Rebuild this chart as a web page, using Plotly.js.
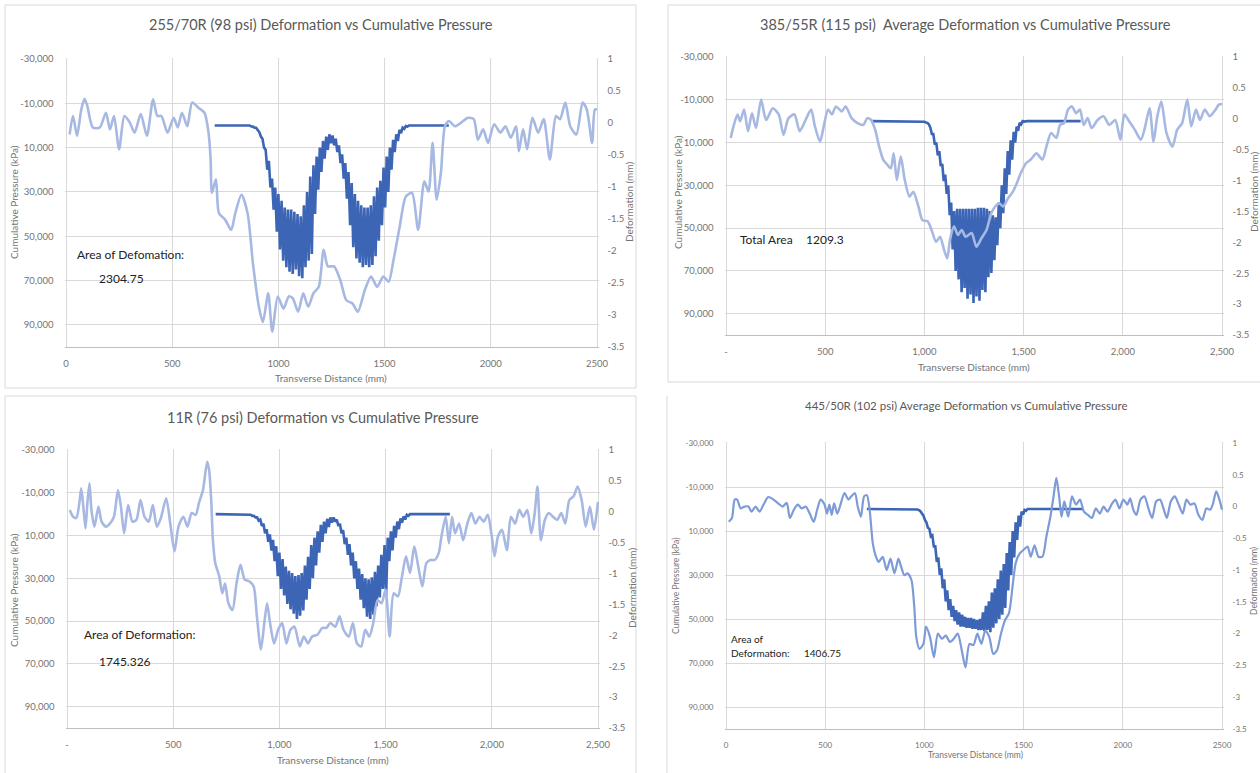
<!DOCTYPE html>
<html><head><meta charset="utf-8">
<script src="https://cdn.plot.ly/plotly-3.0.1.min.js"></script>
<style>html,body{margin:0;padding:0;background:#fff}#chart{width:1260px;height:773px}</style>
</head><body><div id="chart"></div>
<script>
// ---------- tick labels ----------
const pressureTicks = [-30000,-10000,10000,30000,50000,70000,90000];
const pressureTickText = ['-30,000','-10,000','10,000','30,000','50,000','70,000','90,000'];
const deformTicks = [1,0.5,0,-0.5,-1,-1.5,-2,-2.5,-3,-3.5];
const deformTickText = ['1','0.5','0','-0.5','-1','-1.5','-2','-2.5','-3','-3.5'];
const distTicks = [0,500,1000,1500,2000,2500];
const distTickTextPlain = ['0','500','1000','1500','2000','2500'];
const distTickTextComma = ['-','500','1,000','1,500','2,000','2,500'];

// ---------- chart texts ----------
const titles = [
  '255/70R (98 psi) Deformation vs Cumulative Pressure',
  '385/55R (115 psi)\u00a0 Average Deformation vs Cumulative Pressure',
  '11R (76 psi) Deformation vs Cumulative Pressure',
  '445/50R (102 psi) Average Deformation vs Cumulative Pressure'
];
const xTitle = 'Transverse Distance (mm)';
const yLeftTitle = 'Cumulative Pressure (kPa)';
const yRightTitle = 'Deformation (mm)';

// ---------- panel 1: 255/70R ----------
const p1DefX = [17,33,52,72,87,100,126,159,188,207,226,250,275,300,323,352,381,410,430,449,478,507,526,546,571,594,623,652,671,681,687,706,720,749,778,797,826,855,880,908,927,952,971,997,1024,1049,1068,1093,1117,1140,1165,1190,1213,1233,1262,1291,1320,1349,1374,1407,1436,1465,1494,1519,1542,1571,1600,1629,1658,1687,1707,1726,1745,1765,1784,1803,1832,1862,1891,1920,1939,1964,1987,2016,2045,2069,2094,2119,2132,2152,2171,2196,2223,2249,2278,2307,2326,2351,2374,2403,2432,2452,2477,2490,2500];
const p1Def = [-0.18,0.11,-0.20,0.21,0.38,0.27,-0.07,-0.07,0.16,-0.10,0.11,-0.41,0.11,0.01,-0.15,0.14,-0.20,0.37,0.11,0.11,-0.15,0.08,-0.07,0.16,-0.05,0.32,0.24,0.16,-0.15,-0.57,-1.09,-0.88,-1.41,-1.51,-1.67,-1.41,-1.12,-1.41,-2.19,-2.87,-3.11,-2.66,-3.26,-2.71,-2.90,-2.71,-2.74,-2.95,-2.66,-2.87,-2.66,-2.56,-1.98,-2.24,-2.24,-2.45,-2.77,-2.82,-2.95,-2.61,-2.40,-2.56,-2.40,-2.48,-2.14,-1.62,-1.15,-1.09,-1.67,-0.91,-1.07,-0.31,-1.20,-0.78,-0.05,0.03,-0.05,0.01,0.08,0.06,-0.26,-0.10,-0.31,-0.02,-0.15,-0.05,-0.23,-0.05,-0.44,-0.10,-0.41,0.08,-0.15,0.06,-0.57,0.11,0.06,0.32,-0.05,-0.18,0.32,0.21,-0.31,0.21,0.21];
const p1PressStart = 700;
const p1Press = [0,0,0,0,0,0,0,0,0,0,0,0,0,0,0,0,0,0,0,0,0,0,
  0,500,500,1000,1000,2000,3000,5000,6000,10000,11000,20000,16000,28000,24000,38000,28000,48000,31000,56000,34000,61000,37000,64000,38000,66000,38000,67000,39000,65000,40000,68000,41000,69000,36000,64000,30000,61000,23000,58000,18000,40000,14000,29000,10000,21000,7000,15000,5000,11000,4000,8000,4500,9000,6000,12000,9000,17000,13000,24000,17000,33000,21000,45000,26000,55000,31000,60000,34000,62000,36000,64000,37000,63000,37000,64000,36000,63000,32000,59000,28000,52000,25000,45000,19000,37000,14000,30000,10000,20000,6500,12000,4000,7000,2000,3500,1000,1500,300,500,
  0,0,0,0,0,0,0,0,0,0,0,0,0,0,0,0,0,0,0,0,0,0,0,0,0,0];

// ---------- panel 2: 385/55R ----------
const p2DefX = [24,38,58,71,91,111,131,151,177,202,236,266,290,315,345,371,401,429,448,474,494,514,534,554,583,603,633,663,692,712,732,752,772,792,812,831,845,861,881,901,925,944,970,990,1016,1036,1059,1079,1099,1115,1129,1149,1169,1188,1208,1238,1262,1288,1313,1337,1357,1377,1397,1421,1446,1466,1486,1512,1536,1565,1595,1615,1639,1665,1684,1704,1724,1744,1764,1784,1803,1823,1843,1873,1903,1932,1962,1988,2008,2032,2061,2091,2111,2135,2155,2174,2194,2220,2250,2274,2299,2325,2345,2369,2389,2413,2438,2468,2484,2500];
const p2Def = [-0.31,-0.12,0.07,-0.04,0.15,-0.20,0.09,-0.15,0.31,-0.02,0.17,0.07,-0.26,0.01,0.07,-0.20,-0.02,0.15,-0.12,-0.37,-0.10,0.15,0.07,0.20,0.12,0.20,0.01,-0.07,-0.10,0.01,-0.02,-0.18,-0.45,-0.66,-0.74,-0.80,-0.56,-0.99,-0.61,-0.99,-1.26,-1.18,-1.42,-1.64,-1.66,-1.80,-1.99,-1.91,-2.12,-2.26,-1.96,-1.74,-1.88,-1.80,-1.91,-1.85,-2.07,-1.93,-1.80,-1.53,-1.42,-1.37,-1.42,-1.29,-1.18,-1.04,-0.88,-0.72,-0.66,-0.56,-0.66,-0.45,-0.23,-0.31,-0.10,-0.07,0.15,0.20,0.09,0.15,-0.10,0.01,-0.15,-0.02,0.04,-0.10,-0.02,-0.34,0.07,-0.04,-0.18,-0.34,-0.15,0.17,-0.37,0.04,0.28,-0.23,-0.45,-0.18,-0.07,0.31,-0.12,0.15,-0.02,0.15,0.04,0.15,0.23,0.24];
const p2PressStart = 730;
const p2Press = [0,0,0,0,0,0,0,0,0,0,0,0,0,0,0,0,0,0,0,0,0,0,0,0,0,0,0,0,0,0,0,0,0,0,0,0,
  300,600,800,1500,3000,6000,6000,11000,10000,16000,14000,21000,20000,28000,25000,34000,30000,44000,38000,60000,42000,70000,41000,74000,41000,80000,41000,78000,41000,83000,41000,81000,41000,85000,41000,82000,40500,84000,40500,79000,40500,80000,41000,73000,42000,71000,44000,65000,45000,58000,38000,50000,30000,43000,22000,34000,14000,25000,9000,18000,5000,10000,2500,4500,800,1500,0,200,
  0,0,0,0,0,0,0,0,0,0,0,0,0,0,0,0,0,0,0,0,0,0,0,0,0,0,0,0,0,0,0,0,0,0,0,0,0,0];

// ---------- panel 3: 11R ----------
const p3DefX = [13,29,44,58,67,77,87,96,106,115,129,148,163,183,202,221,240,254,269,288,308,327,346,365,385,404,423,442,467,487,506,525,548,567,587,606,621,640,660,669,679,687,698,717,731,744,760,779,798,817,837,860,879,894,913,929,942,956,975,994,1013,1033,1052,1071,1096,1115,1135,1154,1179,1202,1221,1240,1263,1283,1302,1327,1346,1365,1385,1404,1423,1442,1462,1481,1500,1519,1538,1558,1577,1596,1615,1635,1654,1673,1692,1711,1731,1750,1763,1783,1798,1813,1827,1846,1865,1885,1904,1923,1942,1962,1981,2000,2013,2029,2048,2071,2090,2110,2129,2148,2167,2186,2202,2215,2231,2250,2269,2288,2308,2327,2346,2365,2385,2404,2423,2442,2462,2481,2500];
const p3Def = [0.03,-0.08,-0.10,0.14,0.38,0.08,-0.27,0.14,0.46,0.03,-0.24,0.08,-0.16,-0.24,-0.19,-0.08,0.35,0.08,-0.35,0.11,-0.16,-0.13,0.19,-0.08,-0.16,0.11,-0.24,-0.10,0.22,-0.21,-0.64,-0.24,-0.08,-0.24,-0.02,-0.05,0.14,0.35,0.81,0.68,0.19,-0.46,-0.83,-1.05,-1.32,-1.16,-1.48,-1.59,-1.16,-0.86,-1.10,-1.13,-1.21,-1.69,-2.23,-1.80,-1.48,-1.80,-2.13,-1.91,-1.80,-2.13,-1.91,-1.86,-2.18,-2.02,-2.13,-2.02,-1.99,-1.88,-1.88,-1.80,-1.86,-1.69,-1.91,-2.02,-1.80,-2.13,-2.18,-1.91,-2.02,-1.80,-1.43,-1.48,-1.26,-2.02,-1.32,-1.37,-1.05,-0.72,-0.99,-0.56,-0.89,-1.21,-0.83,-0.78,-0.78,-0.67,-0.40,-0.08,-0.51,-0.08,-0.35,-0.19,-0.46,-0.19,-0.02,-0.19,-0.08,-0.16,-0.05,-0.40,-0.72,-0.40,-0.29,-0.62,-0.08,-0.19,0.03,-0.08,0.03,-0.35,-0.02,0.41,-0.46,-0.13,-0.02,-0.08,-0.13,-0.02,-0.19,0.19,0.25,0.41,0.19,-0.24,0.08,-0.29,0.16];
const p3PressStart = 700;
const p3Press = [0,0,0,0,0,0,0,0,0,0,0,0,0,0,0,0,0,0,0,0,0,0,
  300,800,800,1500,1500,3000,2500,5500,4500,9000,7000,13000,9500,17000,12000,22000,15000,29000,18000,35000,21000,38000,24500,42000,26500,44500,27500,46500,29000,49000,28500,47500,27500,45000,24000,40000,20000,35000,14500,30000,11000,24000,8000,18000,5000,13000,3500,9000,2200,6000,1500,4000,1500,3500,2500,5500,4500,9000,7500,14000,11000,19000,14000,24000,18000,30000,22000,35000,25500,40000,28000,44000,30000,48000,30500,49000,29500,47000,27000,43000,24000,39000,19000,35000,14500,38000,11000,22000,8000,17000,5500,11000,3500,7000,2000,4000,1000,2500,300,800,
  0,0,0,0,0,0,0,0,0,0,0,0,0,0,0,0,0,0,0,0,0,0,0,0,0,0];

// ---------- panel 4: 445/50R ----------
const p4DefX = [14,30,44,56,74,93,113,129,149,169,189,213,239,263,286,306,322,342,362,382,402,422,442,461,477,497,509,521,533,545,561,577,597,617,631,650,664,680,696,710,724,740,756,770,790,810,829,849,869,883,899,915,935,949,959,975,995,1008,1028,1048,1068,1088,1108,1128,1148,1168,1187,1207,1227,1247,1267,1287,1307,1327,1347,1366,1386,1406,1426,1446,1460,1480,1500,1520,1536,1555,1575,1595,1615,1635,1651,1665,1679,1691,1705,1725,1744,1764,1784,1804,1824,1844,1864,1884,1903,1923,1943,1963,1983,2003,2023,2037,2053,2069,2089,2109,2129,2148,2168,2188,2202,2222,2242,2262,2282,2302,2321,2341,2361,2381,2401,2421,2441,2455,2471,2487,2500];
const p4Def = [-0.24,-0.18,0.11,0.11,-0.03,0.00,0.00,-0.08,0.00,-0.08,0.03,0.15,0.11,0.05,0.00,0.06,-0.18,-0.05,0.03,-0.03,0.00,-0.11,-0.24,-0.03,0.11,0.03,-0.11,0.03,-0.13,0.05,-0.11,0.03,0.21,0.11,0.16,0.21,0.00,-0.16,0.16,0.18,-0.05,-0.58,-0.79,-0.87,-0.79,-1.00,-0.82,-1.05,-0.82,-0.95,-1.08,-1.05,-1.16,-1.58,-2.05,-2.24,-2.16,-1.89,-2.05,-2.37,-2.00,-2.08,-2.03,-2.13,-2.08,-2.00,-2.24,-2.53,-2.16,-2.18,-2.00,-2.16,-1.95,-2.05,-2.32,-2.26,-2.00,-1.79,-1.68,-1.21,-0.89,-0.74,-0.68,-0.63,-0.79,-0.61,-0.79,-0.79,-0.47,-0.16,0.16,0.45,0.16,-0.16,0.08,-0.16,0.16,0.03,0.11,-0.08,-0.13,-0.18,-0.03,-0.11,0.00,-0.08,0.03,0.11,-0.03,0.11,0.03,0.13,-0.05,-0.13,0.11,0.16,-0.03,-0.18,0.08,0.11,0.00,-0.18,0.08,0.16,0.03,-0.11,0.11,0.03,0.05,-0.13,-0.21,-0.03,-0.05,0.05,0.24,0.11,-0.05];
const p4PressStart = 710;
const p4Press = [0,0,0,0,0,0,0,0,0,0,0,0,0,0,0,0,0,0,0,0,0,0,0,0,0,0,0,0,0,0,0,0,0,0,
  200,500,1000,2000,3000,5000,6000,8500,9000,12500,12000,17000,17000,24000,22000,30000,27000,36000,32000,42000,37000,46000,41000,49000,44000,51000,46000,52500,47000,53500,48000,53500,49000,54000,49500,54000,49500,54500,50000,54500,50500,55000,50000,55000,47000,55500,44000,55000,42000,56000,38000,54000,36000,52000,32000,50000,28000,48000,25000,45000,20000,37000,15000,30000,10000,22000,6000,14000,3000,8000,1200,2500,400,800,
  0,0,0,0,0,0,0,0,0,0,0,0,0,0,0,0,0,0,0,0,0,0,0,0,0,0,0,0,0,0,0,0,0,0,0,0,0,0];

const pressStep = 7.5; // sampling interval of the pressure scans (mm)

// ---------- annotations in plots ----------
const areaNotes = [
  ['Area of Defomation:', '2304.75'],
  ['Total Area', '1209.3'],
  ['Area of Deformation:', '1745.326'],
  ['Area of', 'Deformation:', '1406.75']
];

// ================= drawing =================
const W = 1260, H = 773;
const fx = v => v / W, fy = v => 1 - v / H;
const FONT = 'Lato, "Open Sans", sans-serif';
const DARK = '#3c65b6', LIGHT = '#a7b9e2', LIGHT4 = '#7d9bd7';
const GRID = '#d9d9d9', TICKC = '#737373', TITLEC = '#595959';

function sampleX(start, n) { const a = []; for (let i = 0; i < n; i++) a.push(start + pressStep * i); return a; }

// pixel geometry of each panel's plot area [left, right, top, bottom]
const panels = [
  {box:[66,597,59,347], data:[p1DefX,p1Def,p1PressStart,p1Press], xt:distTickTextPlain, light:LIGHT, fs:9.5},
  {box:[726,1222,57,335], data:[p2DefX,p2Def,p2PressStart,p2Press], xt:distTickTextComma, light:LIGHT, fs:9.5},
  {box:[67,598,450,728], data:[p3DefX,p3Def,p3PressStart,p3Press], xt:distTickTextComma, light:LIGHT, fs:9.5},
  {box:[726,1222,443,729], data:[p4DefX,p4Def,p4PressStart,p4Press], xt:distTickTextPlain, light:LIGHT4, fs:8}
];

const traces = [];
const layout = {
  width: W, height: H, margin: {l:0,r:0,t:0,b:0},
  paper_bgcolor: '#fff', plot_bgcolor: 'rgba(0,0,0,0)',
  showlegend: false, hovermode: false,
  font: {family: FONT, color: TICKC},
  annotations: [], shapes: []
};

panels.forEach((p, i) => {
  const n = i + 1;
  const xa = n === 1 ? 'x' : 'x' + n;
  const yaL = 'y' + (2*i+1 === 1 ? '' : (2*i+1));
  const yaR = 'y' + (2*i+2);
  const xKey = 'xaxis' + (n === 1 ? '' : n);
  const yLKey = 'yaxis' + (2*i+1 === 1 ? '' : (2*i+1));
  const yRKey = 'yaxis' + (2*i+2);
  const [l, r, t, b] = p.box;
  const tf = {family: FONT, size: p.fs, color: TICKC};
  // small padding keeps the edge gridlines (at 0 / 2500 and -30,000) visible
  const xPad = 2500 * 1.5 / (r - l);
  const yPad = 130000 * 1.0 / (b - t);

  layout[xKey] = {
    domain: [fx(l - 1.5), fx(r + 1.5)], anchor: yaL, range: [-xPad, 2500 + xPad],
    tickmode: 'array', tickvals: distTicks, ticktext: p.xt,
    showgrid: true, gridcolor: GRID, gridwidth: 1, zeroline: false,
    showline: true, linecolor: '#bfbfbf', linewidth: 1, ticks: '',
    tickfont: tf, ticklabelstandoff: 8, fixedrange: true
  };
  layout[yLKey] = {
    domain: [fy(b), fy(t - 1)], anchor: xa, range: [100000, -30000 - yPad],
    tickmode: 'array', tickvals: pressureTicks, ticktext: pressureTickText,
    showgrid: true, gridcolor: GRID, gridwidth: 1, zeroline: false, showline: false,
    ticks: '', tickfont: tf, ticklabelstandoff: 10, fixedrange: true
  };
  layout[yRKey] = {
    overlaying: yaL, anchor: xa, side: 'right', range: [-3.5, 1 + 4.5 * 1.0 / (b - t)],
    tickmode: 'array', tickvals: deformTicks, ticktext: deformTickText,
    showgrid: false, zeroline: false, showline: false,
    ticks: '', tickfont: tf, ticklabelstandoff: 8, fixedrange: true
  };

  const [dx, dy, ps, pv] = p.data;
  traces.push({
    type: 'scatter', mode: 'lines', x: sampleX(ps, pv.length), y: pv,
    xaxis: xa, yaxis: yaL, line: {color: DARK, width: 2.6}, name: 'Cumulative Pressure'
  });
  traces.push({
    type: 'scatter', mode: 'lines', x: dx, y: dy,
    xaxis: xa, yaxis: yaR, line: {color: p.light, width: i === 3 ? 2.2 : 2.6, shape: 'spline', smoothing: 0.7},
    name: 'Deformation'
  });
});

// titles and axis titles (placed in pixel positions)
function ann(text, x, y, opt) {
  layout.annotations.push(Object.assign({
    text: text, xref: 'paper', yref: 'paper', x: fx(x), y: fy(y),
    xanchor: 'center', yanchor: 'middle', showarrow: false,
    font: {family: FONT, size: 10, color: TITLEC}
  }, opt || {}));
}
const titlePos = [[321,25,14.5],[965,25,14.5],[323,417,14.5],[966,405,11.5]];
titles.forEach((t, i) => ann(t, titlePos[i][0], titlePos[i][1], {font:{family:FONT,size:titlePos[i][2],color:TITLEC}}));

const xTitlePos = [[331,378,10],[974,367,10],[333,760,10],[975,755,8.5]];
xTitlePos.forEach(p => ann(xTitle, p[0], p[1], {font:{family:FONT,size:p[2],color:TICKC}}));
const yLPos = [[14,202,10],[678,192,10],[14,590,10],[676,586,8.5]];
yLPos.forEach(p => ann(yLeftTitle, p[0], p[1], {textangle:-90, font:{family:FONT,size:p[2],color:TICKC}}));
const yRPos = [[629,202,10],[1254,192,10],[632,588,10],[1254,581,8.5]];
yRPos.forEach(p => ann(yRightTitle, p[0], p[1], {textangle:-90, font:{family:FONT,size:p[2],color:TICKC}}));

// area notes
const noteFont = {family: FONT, size: 12, color: '#222'};
ann(areaNotes[0][0], 75, 255, {xanchor:'left', font: noteFont});
ann(areaNotes[0][1], 97, 278, {xanchor:'left', font: noteFont});
ann(areaNotes[1][0], 738, 239, {xanchor:'left', font: noteFont});
ann(areaNotes[1][1], 804, 239, {xanchor:'left', font: noteFont});
ann(areaNotes[2][0], 82, 634, {xanchor:'left', font: noteFont});
ann(areaNotes[2][1], 97, 661, {xanchor:'left', font: noteFont});
const noteFont4 = {family: FONT, size: 10, color: '#222'};
ann(areaNotes[3][0], 729, 639, {xanchor:'left', font: noteFont4});
ann(areaNotes[3][1], 729, 653, {xanchor:'left', font: noteFont4});
ann(areaNotes[3][2], 802, 653, {xanchor:'left', font: noteFont4});

// chart-area borders of the four Excel charts
const border = {color: '#d9d9d9', width: 1};
function rect(x0, y0, x1, y1) {
  layout.shapes.push({type:'rect', xref:'paper', yref:'paper', x0:fx(x0), x1:fx(x1), y0:fy(y1), y1:fy(y0), line:border, layer:'below'});
}
rect(5, 5, 636, 388);
rect(668, 5, 1265, 382);
rect(5, 396, 636, 780);
layout.shapes.push({type:'line', xref:'paper', yref:'paper', x0:fx(667), x1:fx(667), y0:fy(773), y1:fy(396), line:border, layer:'below'});

Plotly.newPlot('chart', traces, layout, {staticPlot: true, displayModeBar: false});
</script>
</body></html>
